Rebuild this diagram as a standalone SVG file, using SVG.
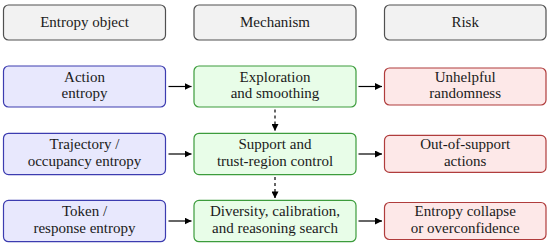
<svg xmlns="http://www.w3.org/2000/svg" width="550" height="246" viewBox="0 0 550 246">
<defs>
<marker id="ah" viewBox="0 0 10 10" refX="10" refY="5" markerWidth="7" markerHeight="7" markerUnits="userSpaceOnUse" orient="auto">
<path d="M0,0 L10,5 L0,10 Z" fill="#000"/>
</marker>
<style>
text{font-family:"Liberation Serif","Times New Roman",serif;font-size:15px;fill:#1a1a1a;text-anchor:middle}
.hd{fill:#f2f2f2;stroke:#505050;stroke-width:1.2}
.ob{fill:#e8e8fd;stroke:#3c3cb0;stroke-width:1.2}
.me{fill:#e8fde8;stroke:#3c9c3c;stroke-width:1.2}
.rk{fill:#fde8e8;stroke:#b03c3c;stroke-width:1.2}
.ar{stroke:#000;stroke-width:1.2;fill:none;marker-end:url(#ah)}
.da{stroke-dasharray:3 3}
</style>
</defs>
<g id="h-entropy"><rect class="hd" x="3.5" y="5" width="162" height="35" rx="5"/><text x="84.5" y="26.5">Entropy object</text></g>
<g id="h-mechanism"><rect class="hd" x="194" y="5" width="162" height="35" rx="5"/><text x="275" y="26.5">Mechanism</text></g>
<g id="h-risk"><rect class="hd" x="384.5" y="5" width="161.5" height="35" rx="5"/><text x="465.2" y="26.5">Risk</text></g>

<g id="o1"><rect class="ob" x="3.5" y="66" width="162" height="41" rx="5"/><text x="84.5" y="81.7">Action</text><text x="84.5" y="98.3">entropy</text></g>
<g id="m1"><rect class="me" x="194" y="66" width="162" height="41" rx="5"/><text x="275" y="81.7">Exploration</text><text x="275" y="98.3">and smoothing</text></g>
<g id="r1"><rect class="rk" x="384.5" y="68" width="161.5" height="37" rx="5"/><text x="465.2" y="81.7">Unhelpful</text><text x="465.2" y="98.3">randomness</text></g>

<g id="o2"><rect class="ob" x="3.5" y="133.3" width="162" height="41.3" rx="5"/><text x="84.5" y="149.2">Trajectory /</text><text x="84.5" y="165.8">occupancy entropy</text></g>
<g id="m2"><rect class="me" x="194" y="133.3" width="162" height="41.3" rx="5"/><text x="275" y="149.2">Support and</text><text x="275" y="165.8">trust-region control</text></g>
<g id="r2"><rect class="rk" x="384.5" y="135.4" width="161.5" height="37" rx="5"/><text x="465.2" y="149.2">Out-of-support</text><text x="465.2" y="165.8">actions</text></g>

<g id="o3"><rect class="ob" x="3.5" y="200.4" width="162" height="41.3" rx="5"/><text x="84.5" y="216.3">Token /</text><text x="84.5" y="232.9">response entropy</text></g>
<g id="m3"><rect class="me" x="194" y="200.4" width="162" height="41.3" rx="5"/><text x="275" y="216.3">Diversity, calibration,</text><text x="275" y="232.9">and reasoning search</text></g>
<g id="r3"><rect class="rk" x="384.5" y="202.5" width="161.5" height="37" rx="5"/><text x="465.2" y="216.3">Entropy collapse</text><text x="465.2" y="232.9">or overconfidence</text></g>

<g id="connectors">
<line class="ar" x1="168.5" y1="86.5" x2="191.5" y2="86.5"/>
<line class="ar" x1="358.5" y1="86.5" x2="382" y2="86.5"/>
<line class="ar" x1="168.5" y1="154" x2="191.5" y2="154"/>
<line class="ar" x1="358.5" y1="154" x2="382" y2="154"/>
<line class="ar" x1="168.5" y1="221" x2="191.5" y2="221"/>
<line class="ar" x1="358.5" y1="221" x2="382" y2="221"/>
<line class="ar da" x1="275" y1="109.5" x2="275" y2="131"/>
<line class="ar da" x1="275" y1="177" x2="275" y2="198.4"/>
</g>
</svg>
